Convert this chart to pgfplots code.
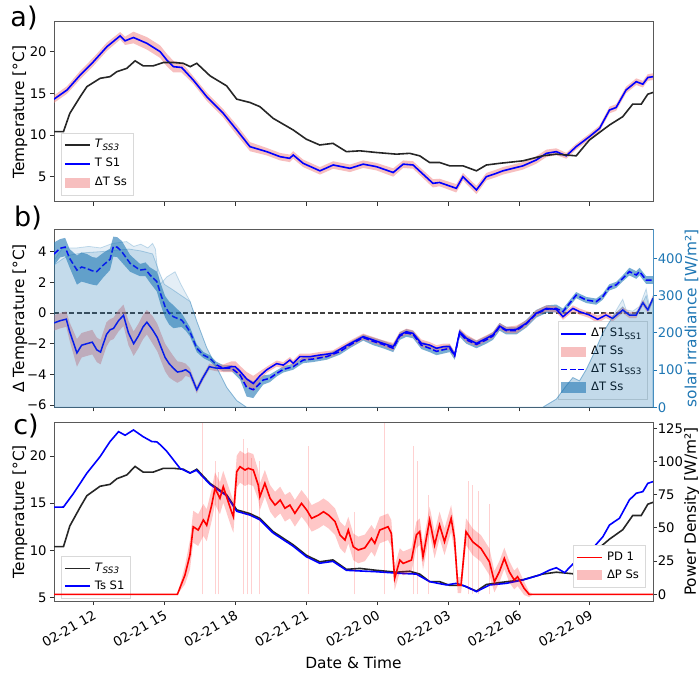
\documentclass[border=0pt]{standalone}
\usepackage{fontspec}
\setmainfont{DejaVu Sans}
\usepackage{pgfplots}
\pgfplotsset{compat=1.18}
\usepackage{pgfplotstable}
\definecolor{tabblue}{RGB}{31,119,180}
\definecolor{lcoral}{RGB}{240,128,128}
\definecolor{pinkpatch}{RGB}{247,191,191}
\definecolor{bluepatch}{RGB}{121,173,210}
\definecolor{redpatch}{RGB}{250,190,190}
\newcommand\sub[1]{\raisebox{-0.4ex}{\fontsize{4.4}{5}\selectfont #1}}

\pgfplotstableread{
t v
10.33 10.4
10.73 10.4
11.0 12.6
11.44 14.6
11.72 15.8
12.28 16.8
12.7 17.0
12.99 17.6
13.41 18.0
13.76 18.9
14.1 18.3
14.53 18.3
14.96 18.7
15.38 18.7
15.8 18.6
16.09 18.2
16.37 18.6
16.93 17.1
17.63 15.9
18.06 14.3
18.62 13.9
19.04 13.4
19.6 12.0
20.45 10.6
21.0 9.5
21.57 8.8
22.13 9.0
22.7 8.0
23.27 8.1
23.97 7.9
24.82 7.7
25.38 7.8
25.8 7.5
26.22 6.7
26.64 6.7
27.07 6.3
27.63 6.3
28.2 5.7
28.62 6.4
29.18 6.6
30.17 6.9
31.0 7.5
31.58 7.7
32.42 7.5
32.98 9.4
33.83 11.2
34.39 12.2
34.81 13.7
35.17 13.7
35.45 14.9
35.67 15.1
}\blackT

\pgfplotstableread{
t v w
10.33 14.3 0.45
10.88 15.4 0.45
11.44 17.2 0.5
12.0 18.8 0.5
12.57 20.6 0.5
13.13 21.9 0.45
13.34 21.3 0.5
13.69 21.7 0.7
14.26 21.0 0.75
14.82 20.0 0.75
15.1 19.0 0.75
15.38 18.2 0.7
15.73 18.1 0.6
16.22 16.6 0.45
16.79 14.6 0.5
17.49 12.6 0.5
18.06 10.6 0.6
18.62 8.6 0.55
19.33 8.0 0.45
19.89 7.4 0.45
20.3 7.2 0.45
20.45 7.6 0.45
20.87 6.6 0.45
21.58 5.7 0.45
22.14 6.4 0.45
22.85 6.0 0.45
23.41 6.5 0.45
23.97 6.2 0.45
24.68 5.5 0.5
25.1 6.5 0.45
25.52 6.4 0.45
26.36 4.2 0.5
26.64 4.3 0.45
27.35 3.6 0.5
27.63 5.0 0.45
28.2 3.4 0.5
28.62 5.0 0.45
29.04 5.4 0.45
29.32 5.7 0.45
30.17 6.3 0.45
30.73 7.0 0.45
31.16 7.8 0.45
31.58 8.0 0.4
32.0 7.5 0.35
32.42 8.6 0.35
32.98 9.8 0.35
33.41 10.8 0.35
33.83 13.0 0.4
34.11 13.3 0.4
34.53 15.4 0.4
34.96 16.4 0.4
35.24 16.1 0.4
35.45 16.9 0.4
35.67 17.0 0.4
}\blueA

\pgfplotstableread{
t v w
10.33 -0.65 0.5
10.59 -0.5 0.5
10.85 -0.4 0.5
10.99 -1.2 0.6
11.30 -2.6 0.9
11.5 -2.1 0.8
11.72 -2.0 0.8
11.95 -1.9 0.8
12.14 -2.4 0.8
12.3 -2.55 0.8
12.55 -1.4 0.8
12.7 -1.1 0.7
12.85 -1.0 0.7
13.06 -0.5 0.7
13.27 -0.15 0.7
13.48 -1.3 0.8
13.7 -2.0 0.8
13.9 -1.5 0.8
14.1 -0.9 0.8
14.26 -0.6 0.8
14.5 -1.1 0.9
14.7 -1.6 0.9
14.85 -2.2 0.9
15.03 -2.9 0.9
15.2 -3.3 0.9
15.38 -3.6 0.8
15.55 -3.85 0.7
15.73 -3.8 0.6
15.9 -3.7 0.4
16.08 -3.9 0.3
16.37 -5.0 0.25
16.6 -4.3 0.2
16.9 -3.5 0.2
17.21 -3.6 0.2
17.5 -3.6 0.25
17.84 -3.5 0.35
18.0 -3.5 0.35
18.2 -3.8 0.35
18.48 -4.3 0.45
18.76 -4.6 0.5
19.04 -4.1 0.3
19.33 -3.7 0.2
19.75 -3.3 0.2
20.03 -3.4 0.2
20.31 -3.07 0.2
20.45 -3.28 0.2
20.73 -2.85 0.2
21.15 -2.85 0.2
21.58 -2.74 0.2
22.14 -2.63 0.2
22.5 -2.3 0.2
22.85 -2.0 0.2
23.41 -1.54 0.2
23.83 -1.76 0.2
24.25 -1.98 0.2
24.68 -2.2 0.25
24.96 -1.43 0.2
25.24 -1.22 0.2
25.52 -1.33 0.2
25.87 -1.98 0.25
26.22 -2.09 0.2
26.51 -2.3 0.2
26.79 -2.2 0.2
27.07 -2.2 0.2
27.28 -2.74 0.2
27.49 -1.22 0.2
27.77 -1.65 0.25
28.2 -1.98 0.2
28.62 -1.65 0.2
28.9 -1.43 0.2
29.18 -0.85 0.2
29.46 -1.1 0.2
29.89 -1.07 0.25
30.31 -0.67 0.2
30.73 -0.02 0.2
31.16 0.3 0.2
31.58 0.24 0.2
31.86 -0.24 0.2
32.28 0.3 0.2
32.56 0.09 0.2
32.98 -0.13 0.2
33.33 -0.41 0.25
33.68 -0.13 0.2
33.96 -0.35 0.2
34.39 0.2 0.2
34.67 -0.13 0.2
34.96 -0.13 0.2
35.24 0.67 0.2
35.45 0.2 0.2
35.67 0.96 0.2
}\dSolid

\pgfplotstableread{
t v w
10.33 3.85 0.75
10.59 4.22 0.6
10.8 4.3 0.6
10.99 3.57 0.6
11.30 2.8 0.95
11.5 3.0 0.95
11.72 2.9 0.95
11.95 2.75 0.9
12.14 2.7 0.9
12.42 3.13 0.8
12.7 3.5 0.7
12.84 4.33 0.65
13.0 4.3 0.65
13.2 4.0 0.7
13.55 3.24 0.55
13.97 2.8 0.4
14.2 2.85 0.45
14.39 2.48 0.5
14.68 2.05 0.65
14.85 1.2 0.7
15.03 0.41 0.7
15.2 0.0 0.75
15.38 -0.24 0.75
15.55 -0.35 0.6
15.73 -0.46 0.45
15.9 -0.8 0.35
16.08 -1.22 0.3
16.37 -2.3 0.25
16.65 -2.74 0.2
16.93 -2.96 0.2
17.21 -3.39 0.2
17.49 -3.6 0.2
17.84 -3.6 0.2
18.2 -4.04 0.3
18.48 -4.85 0.6
18.76 -5.0 0.55
18.97 -4.7 0.4
19.18 -4.37 0.3
19.46 -4.26 0.25
19.75 -3.94 0.2
20.03 -3.68 0.2
20.45 -3.5 0.2
20.87 -3.07 0.2
21.29 -3.0 0.2
21.86 -2.85 0.2
22.42 -2.52 0.2
22.85 -2.09 0.2
23.41 -1.6 0.2
23.83 -1.85 0.25
24.25 -2.05 0.25
24.68 -2.3 0.25
24.96 -1.5 0.25
25.24 -1.3 0.25
25.52 -1.4 0.25
25.87 -2.1 0.25
26.22 -2.3 0.25
26.51 -2.5 0.25
26.79 -2.4 0.25
27.07 -2.3 0.25
27.28 -2.8 0.25
27.49 -1.3 0.25
27.77 -1.75 0.25
28.2 -2.05 0.25
28.62 -1.75 0.25
28.9 -1.5 0.25
29.18 -0.9 0.25
29.46 -1.15 0.25
29.89 -1.15 0.25
30.31 -0.7 0.25
30.73 -0.05 0.25
31.16 0.25 0.25
31.58 0.3 0.25
31.86 0.09 0.2
32.42 1.17 0.2
32.84 0.85 0.2
33.27 0.74 0.2
33.54 1.06 0.2
33.82 1.67 0.2
34.11 1.83 0.2
34.39 2.26 0.2
34.67 2.7 0.25
34.96 2.48 0.25
35.1 2.7 0.25
35.38 2.15 0.25
35.67 2.15 0.25
}\dDashed

\pgfplotstableread{
t v
10.33 395
10.7 428
11.3 428
11.8 432
12.3 428
12.8 440
13.4 445
13.7 432
14.0 438
14.3 428
14.5 440
14.62 425
14.72 360
14.82 330
15.1 350
15.45 364
15.7 330
16.09 284
16.37 231
16.79 160
17.21 107
17.64 53
18.06 18
18.48 0
31.0 0
31.58 22
32.0 58
32.28 80
32.56 71
32.85 102
33.12 138
33.55 200
33.97 244
34.2 270
34.39 290
34.53 262
34.81 258
35.1 271
35.38 318
35.52 271
35.67 298
}\irrLight

\pgfplotstableread{
t v
10.33 382
10.73 400
11.02 409
11.6 415
12.3 418
13.0 422
13.5 425
14.0 420
14.5 412
14.8 360
15.0 330
15.3 318
15.6 305
16.09 284
16.37 231
16.79 160
17.21 107
17.64 53
18.06 18
18.48 0
31.0 0
31.58 22
32.0 58
32.28 80
32.56 71
32.85 102
33.12 138
33.55 200
33.97 244
34.39 270
34.53 255
34.81 250
35.1 262
35.38 300
35.52 262
35.67 290
}\irrMain

\pgfplotstableread{
t v
10.33 14.58
10.73 14.6
11.16 16.06
11.72 18.18
12.28 19.94
12.7 21.53
13.06 22.58
13.34 22.2
13.69 22.76
14.1 22.05
14.47 21.53
14.68 21.5
14.82 21.2
15.1 20.5
15.38 19.6
15.66 18.7
16.08 18.2
16.36 18.5
16.93 17.0
17.63 15.8
18.06 14.15
18.62 13.75
19.04 13.25
19.6 11.85
20.45 10.45
21.0 9.35
21.57 8.65
22.13 8.85
22.7 7.9
23.97 7.75
24.96 7.58
25.66 7.5
26.22 6.7
26.93 6.35
27.35 6.52
27.77 6.17
28.2 5.64
28.76 6.35
29.46 6.52
30.17 6.88
30.87 7.4
31.3 7.93
31.58 8.17
31.93 7.65
32.28 8.57
32.7 8.99
33.12 10.23
33.55 11.46
33.83 12.7
34.25 13.41
34.67 15.35
34.96 16.06
35.24 16.23
35.45 17.11
35.67 17.29
}\blueC

\pgfplotstableread{
t v w
10.33 0 0
15.55 0 0
15.87 14.5 7
16.08 29.6 11
16.22 50.9 12
16.43 48.4 12
16.65 56 12
16.79 52 12
17.0 67.2 12
17.14 79.8 12
17.35 72.3 12
17.49 81 12
17.7 69.7 12
17.84 62.2 12
17.92 58.4 12
18.06 92.3 12
18.2 96.1 12
18.41 93.6 12
18.55 94.9 12
18.76 93.6 12
18.97 82.3 11
19.04 73.5 10
19.25 83.6 10
19.47 72.3 10
19.68 67.2 10
19.9 71 10
20.1 64.8 10
20.31 67.2 10
20.52 61 10
20.8 68.5 10
21.02 63.5 10
21.23 57.2 10
21.52 59.7 10
21.73 62.2 10
21.94 59.7 10
22.22 54.7 10
22.43 44.7 10
22.64 40.9 10
22.78 48.4 10
22.99 35.8 10
23.2 33.4 10
23.48 35 10
23.76 42.2 10
23.9 38.4 10
24.11 48.4 10
24.46 50.9 10
24.6 45.9 10
24.74 12 9
24.96 25.8 9
25.1 23.3 9
25.45 25.8 9
25.66 44.7 10
25.8 47.2 10
25.94 28.3 10
26.22 56 10
26.43 37.1 10
26.64 52.2 10
26.85 39.6 10
27.13 57.2 10
27.27 42.2 10
27.41 7 6
27.55 7 6
27.76 47.2 10
28.04 39.6 10
28.39 34.6 10
28.75 24.5 10
28.96 9.5 8
29.17 17 8
29.38 27.1 8
29.59 17 8
29.8 10.8 7
29.94 13.3 7
30.22 4.5 5
30.43 0 2
30.6 0 0
35.67 0 0
}\pdC

\pgfplotstableread{
t v
16.6 129
17.15 100
17.3 92
18.35 117
18.5 110
18.7 103
19.0 100
21.1 112
23.05 62
24.3 129
25.52 112
25.7 100
26.15 75
27.85 85
28.05 82
28.3 78
28.75 68
}\spikes

% band polygons: upper edge forward, lower edge backward
\pgfplotstablesort[sort key=t, sort cmp=float <]{\bandA}{\blueA}
\pgfplotstablesort[sort key=t, sort cmp=float >]{\bandAdn}{\blueA}
\pgfplotstablecreatecol[expr={\thisrow{v}+\thisrow{w}}]{b}{\bandA}
\pgfplotstablecreatecol[expr={\thisrow{v}-\thisrow{w}}]{b}{\bandAdn}
\pgfplotstablevertcat{\bandA}{\bandAdn}

\pgfplotstablesort[sort key=t, sort cmp=float <]{\bandS}{\dSolid}
\pgfplotstablesort[sort key=t, sort cmp=float >]{\bandSdn}{\dSolid}
\pgfplotstablecreatecol[expr={\thisrow{v}+\thisrow{w}}]{b}{\bandS}
\pgfplotstablecreatecol[expr={\thisrow{v}-\thisrow{w}}]{b}{\bandSdn}
\pgfplotstablevertcat{\bandS}{\bandSdn}

\pgfplotstablesort[sort key=t, sort cmp=float <]{\bandD}{\dDashed}
\pgfplotstablesort[sort key=t, sort cmp=float >]{\bandDdn}{\dDashed}
\pgfplotstablecreatecol[expr={\thisrow{v}+\thisrow{w}}]{b}{\bandD}
\pgfplotstablecreatecol[expr={\thisrow{v}-\thisrow{w}}]{b}{\bandDdn}
\pgfplotstablevertcat{\bandD}{\bandDdn}

\pgfplotstablesort[sort key=t, sort cmp=float <]{\bandP}{\pdC}
\pgfplotstablesort[sort key=t, sort cmp=float >]{\bandPdn}{\pdC}
\pgfplotstablecreatecol[expr={\thisrow{v}+\thisrow{w}}]{b}{\bandP}
\pgfplotstablecreatecol[expr={\thisrow{v}-\thisrow{w}}]{b}{\bandPdn}
\pgfplotstablevertcat{\bandP}{\bandPdn}

\pgfplotsset{
  base/.style={
    scale only axis, width=299.5pt,
    xmin=10.33, xmax=35.67,
    xtick={12,15,18,21,24,27,30,33},
    tick align=outside,
    major tick length=2pt,
    tick style={black!80, line width=0.45pt},
    axis line style={black!65, line width=0.5pt},
    every tick label/.append style={font=\fontsize{6.6}{7.5}\selectfont},
    yticklabel style={inner sep=1.5pt},
    label style={font=\fontsize{7.7}{8.5}\selectfont},
    /pgf/number format/assume math mode=true,
    legend cell align=left,
    legend style={font=\fontsize{5.8}{6.8}\selectfont, draw=black!15, fill=white,
      inner sep=1.2pt, row sep=-0.9pt},
    legend image post style={xscale=0.74},
  },
}

\begin{document}
\begin{tikzpicture}
\useasboundingbox (0,0) rectangle (349.5pt,337.5pt);

% ---------------- panel a ----------------
\begin{axis}[base, at={(27pt,236.5pt)}, anchor=south west, height=90pt,
  ymin=1.96, ymax=23.56, ytick={5,10,15,20},
  xticklabels={}, xtick pos=lower, ytick pos=left,
  ylabel={Temperature [°C]},
  ylabel style={at={(axis description cs:-0.057,0.5)}, anchor=center},
  reverse legend,
  legend style={at={(0.012,0.035)}, anchor=south west, row sep=-0.3pt}]
\addplot[fill=lcoral, fill opacity=0.5, draw=none, forget plot] table[x=t, y=b] {\bandA} -- cycle;
\addplot[draw=none, fill=none,
  legend image code/.code={\fill[pinkpatch] (0cm,-0.09cm) rectangle (0.6cm,0.09cm);}]
  table[x=t, y=b] {\bandA};
\addlegendentry{ΔT Ss}
\addplot[blue, line width=0.8pt] table[x=t, y=v] {\blueA};
\addlegendentry{T S1}
\addplot[black!85, line width=0.8pt] table[x=t, y=v] {\blackT};
\addlegendentry{\textit{T}\sub{\textit{SS3}}}
\end{axis}

% ---------------- panel b ----------------
\begin{axis}[base, at={(27pt,133.85pt)}, anchor=south west, height=89pt,
  ymin=-6.15, ymax=5.46, ytick={-6,-4,-2,0,2,4}, yticklabels={−6,−4,−2,0,2,4},
  xticklabels={}, xtick pos=lower, ytick pos=left,
  ylabel={Δ Temperature [°C]},
  ylabel style={at={(axis description cs:-0.057,0.5)}, anchor=center},
  reverse legend,
  legend style={at={(0.992,0.041)}, anchor=south east}]
\addplot[black!75, line width=0.7pt, dash pattern=on 2.6pt off 1.2pt, forget plot] coordinates {(10.33,0) (35.67,0)};
\addplot[fill=tabblue, fill opacity=0.6, draw=none, forget plot] table[x=t, y=b] {\bandD} -- cycle;
\addplot[fill=lcoral, fill opacity=0.5, draw=none, forget plot] table[x=t, y=b] {\bandS} -- cycle;
\addplot[draw=none, fill=none,
  legend image code/.code={\fill[bluepatch] (0cm,-0.09cm) rectangle (0.6cm,0.09cm);}]
  table[x=t, y=b] {\bandD};
\addlegendentry{ΔT Ss}
\addplot[blue, line width=0.75pt, dash pattern=on 3pt off 1.3pt] table[x=t, y=v] {\dDashed};
\addlegendentry{ΔT S1\sub{SS3}}
\addplot[draw=none, fill=none,
  legend image code/.code={\fill[pinkpatch] (0cm,-0.09cm) rectangle (0.6cm,0.09cm);}]
  table[x=t, y=b] {\bandS};
\addlegendentry{ΔT Ss}
\addplot[blue, line width=0.75pt] table[x=t, y=v] {\dSolid};
\addlegendentry{ΔT S1\sub{SS1}}
\end{axis}
\begin{axis}[base, at={(27pt,133.85pt)}, anchor=south west, height=89pt,
  ymin=0, ymax=478, ytick={0,100,200,300,400},
  axis x line=none, axis y line*=right,
  axis line style={tabblue!80, line width=0.5pt},
  ytick style={tabblue}, yticklabel style={tabblue, xshift=-1.3pt},
  ylabel={solar irradiance [W/m²]},
  ylabel style={tabblue, at={(axis description cs:1.0645,0.5)}, anchor=center}]
\addplot[draw=tabblue, draw opacity=0.25, fill=tabblue, fill opacity=0.12, line width=0.4pt] table[x=t, y=v] {\irrLight} \closedcycle;
\addplot[draw=tabblue, draw opacity=0.3, fill=tabblue, fill opacity=0.16, line width=0.4pt] table[x=t, y=v] {\irrMain} \closedcycle;
\end{axis}

% ---------------- panel c ----------------
\begin{axis}[base, at={(27pt,37pt)}, anchor=south west, height=89.35pt,
  ymin=4.65, ymax=23.57, ytick={5,10,15,20},
  xtick pos=lower, ytick pos=left,
  xticklabels={02-21 12,02-21 15,02-21 18,02-21 21,02-22 00,02-22 03,02-22 06,02-22 09},
  xticklabel style={rotate=30, anchor=north east, inner sep=1.5pt},
  xlabel={Date \& Time},
  xlabel style={at={(axis description cs:0.5,0)}, anchor=center, yshift=-31pt},
  ylabel={Temperature [°C]},
  ylabel style={at={(axis description cs:-0.057,0.5)}, anchor=center},
  legend style={at={(0.012,0.012)}, anchor=south west}]
\addplot[black!85, line width=0.8pt] table[x=t, y=v] {\blackT};
\addlegendentry{\textit{T}\sub{\textit{SS3}}}
\addplot[blue, line width=0.8pt] table[x=t, y=v] {\blueC};
\addlegendentry{Ts S1}
\end{axis}
\begin{axis}[base, at={(27pt,37pt)}, anchor=south west, height=89.35pt,
  ymin=-5, ymax=129.5, ytick={0,25,50,75,100,125},
  axis x line=none, axis y line*=right,
  yticklabel style={xshift=-1.3pt},
  ylabel={Power Density [W/m²]},
  ylabel style={at={(axis description cs:1.0645,0.5)}, anchor=center},
  reverse legend,
  legend style={at={(0.988,0.073)}, anchor=south east}]
\addplot[ycomb, red, opacity=0.18, line width=0.4pt, forget plot] table[x=t, y=v] {\spikes};
\addplot[fill=red, fill opacity=0.22, draw=none, forget plot] table[x=t, y=b] {\bandP} -- cycle;
\addplot[draw=none, fill=none,
  legend image code/.code={\fill[redpatch] (0cm,-0.09cm) rectangle (0.6cm,0.09cm);}]
  table[x=t, y=b] {\bandP};
\addlegendentry{ΔP Ss}
\addplot[red, line width=0.8pt] table[x=t, y=v] {\pdC};
\addlegendentry{PD 1}
\end{axis}

\node[font=\fontsize{13.5}{14}\selectfont] at (12pt,328.5pt) {a)};
\node[font=\fontsize{13.5}{14}\selectfont] at (14pt,228.5pt) {b)};
\node[font=\fontsize{13.5}{14}\selectfont] at (13pt,124.5pt) {c)};
\end{tikzpicture}
\end{document}
